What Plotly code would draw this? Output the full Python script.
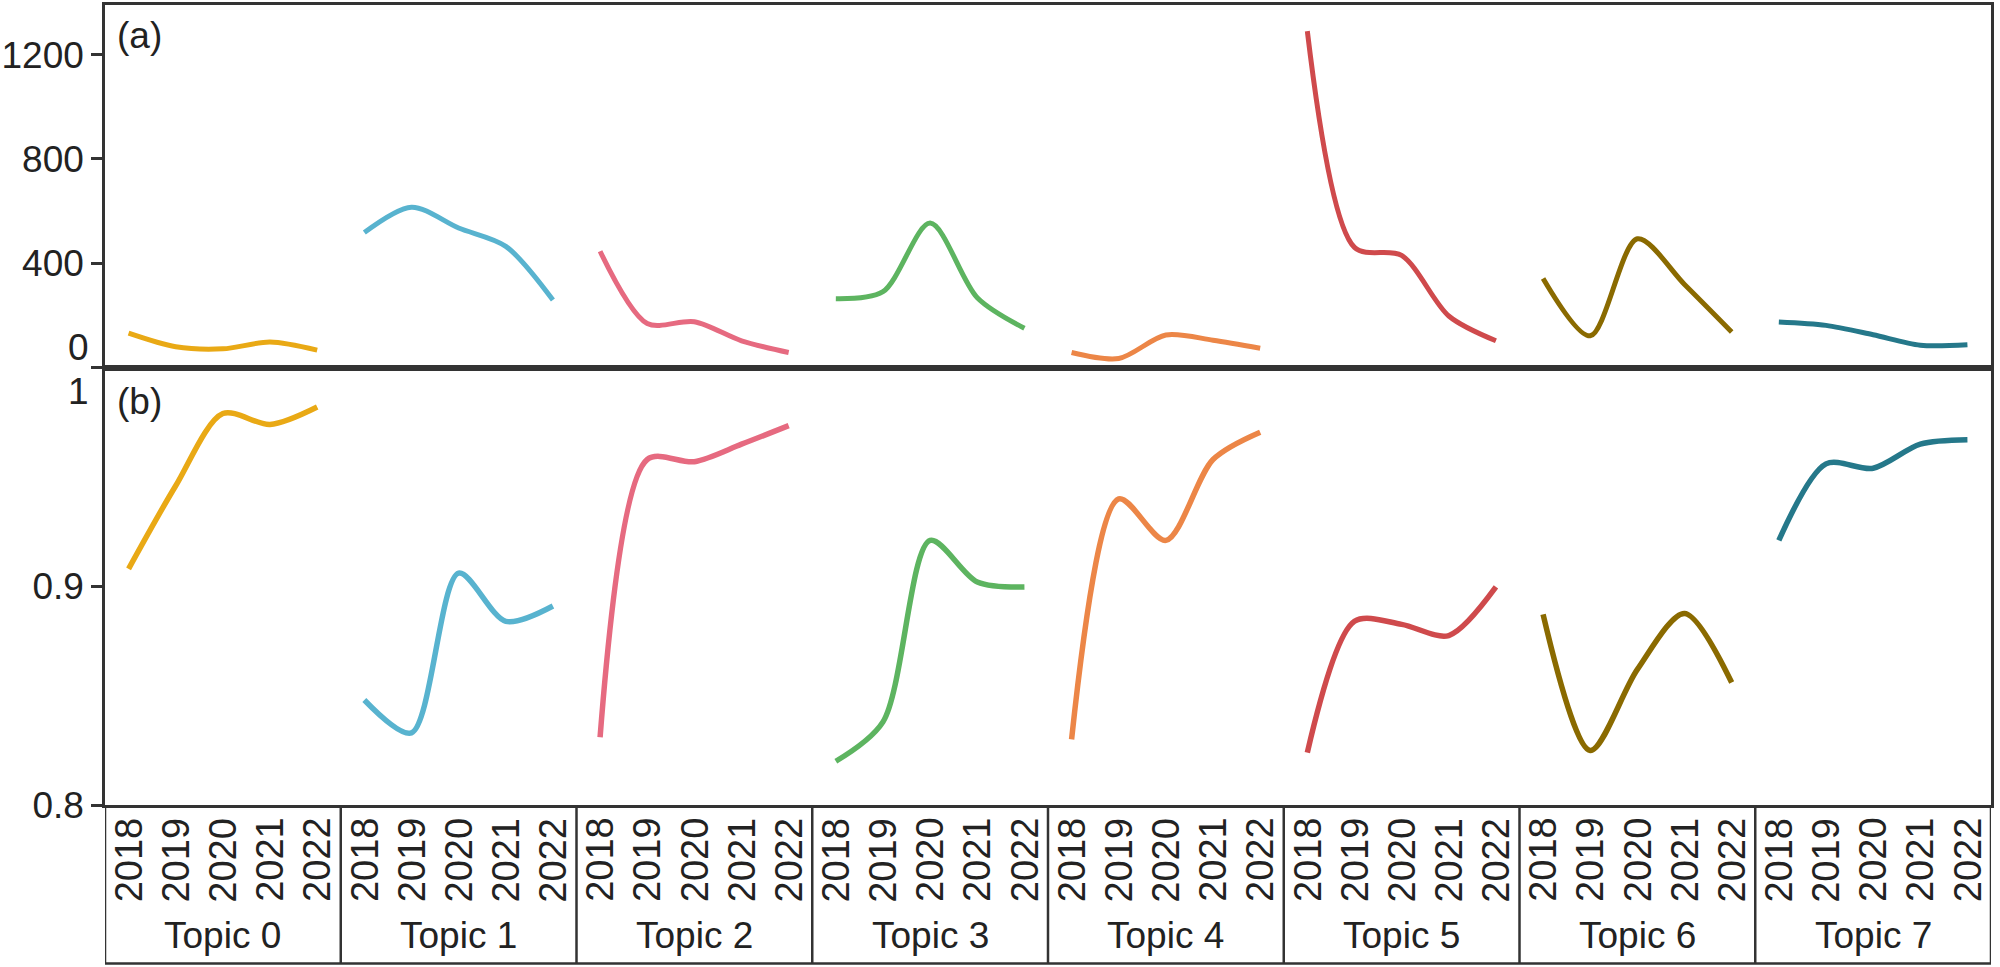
import plotly.graph_objects as go

topics = ["Topic 0", "Topic 1", "Topic 2", "Topic 3", "Topic 4", "Topic 5", "Topic 6", "Topic 7"]
years = ["2018", "2019", "2020", "2021", "2022"]
colors = ["#E9A915", "#58B3CF", "#E66A80", "#5DB460", "#EC8647", "#CF4A4C", "#8A6A00", "#25788A"]

# panel (a): counts per topic and year
count_t0 = [132, 80, 72, 98, 67]
count_t1 = [518, 615, 535, 465, 259]
count_t2 = [446, 169, 176, 103, 58]
count_t3 = [264, 291, 554, 268, 151]
count_t4 = [58, 35, 125, 105, 74]
count_t5 = [1290, 461, 430, 198, 103]
count_t6 = [342, 122, 494, 319, 137]
count_t7 = [175, 162, 126, 86, 88]

# panel (b): score per topic and year
score_t0 = [0.908, 0.946, 0.979, 0.974, 0.982]
score_t1 = [0.848, 0.833, 0.906, 0.884, 0.891]
score_t2 = [0.831, 0.958, 0.957, 0.965, 0.9735]
score_t3 = [0.820, 0.838, 0.921, 0.902, 0.8997]
score_t4 = [0.830, 0.940, 0.921, 0.958, 0.9705]
score_t5 = [0.824, 0.884, 0.8826, 0.8775, 0.8997]
score_t6 = [0.8872, 0.8249, 0.862, 0.8876, 0.856]
score_t7 = [0.921, 0.956, 0.954, 0.965, 0.967]

counts = [count_t0, count_t1, count_t2, count_t3, count_t4, count_t5, count_t6, count_t7]
scores = [score_t0, score_t1, score_t2, score_t3, score_t4, score_t5, score_t6, score_t7]

GROUP = 5
def xpos(g):
    return [GROUP * g + i + 0.5 for i in range(len(years))]

FONT = "Liberation Sans, Arial, sans-serif"
TXT = "#222222"
fig = go.Figure()
for g in range(len(topics)):
    fig.add_trace(go.Scatter(x=xpos(g), y=counts[g], mode="lines",
                             line=dict(color=colors[g], width=5, shape="spline", smoothing=0.85),
                             xaxis="x2", yaxis="y2", showlegend=False, hoverinfo="skip"))
    fig.add_trace(go.Scatter(x=xpos(g), y=scores[g], mode="lines",
                             line=dict(color=colors[g], width=5.5, shape="spline", smoothing=0.85),
                             xaxis="x", yaxis="y", showlegend=False, hoverinfo="skip"))

W, H = 2000, 967
L, R, T, B = 103, 9, 2, 162
plot_h = H - T - B
split = (805 - 366) / plot_h
xr = [0, GROUP * len(topics)]
axcol = "#333333"

common_x = dict(range=xr, showgrid=False, zeroline=False, showticklabels=False, ticks="",
                showline=True, linecolor=axcol, linewidth=2.5, mirror=True)
common_y = dict(showgrid=False, zeroline=False, showline=True, linecolor=axcol, linewidth=2.5,
                mirror=True, ticks="outside", ticklen=11, tickwidth=2.5, tickcolor=axcol,
                tickfont=dict(family=FONT, size=37, color=TXT))

fig.update_layout(
    width=W, height=H, margin=dict(l=L, r=R, t=T, b=B),
    paper_bgcolor="white", plot_bgcolor="white",
    xaxis=dict(anchor="y", **common_x),
    xaxis2=dict(anchor="y2", matches="x", **common_x),
    yaxis=dict(domain=[0, split], range=[0.8, 1.0], tickvals=[0.8, 0.9, 1.0],
               ticktext=["0.8", "0.9", ""], anchor="x", **common_y),
    yaxis2=dict(domain=[split, 1], range=[0, 1390], tickvals=[0, 400, 800, 1200],
                ticktext=["", "400", "800", "1200"], anchor="x2", **common_y),
)

def py(ypix):
    return (H - B - ypix) / plot_h

ann = []
# edge tick labels shifted inward
ann.append(dict(text="0", x=0, xref="paper", y=76, yref="y2", xanchor="right", yanchor="middle",
                xshift=-14, showarrow=False, font=dict(family=FONT, size=37, color=TXT)))
ann.append(dict(text="1", x=0, xref="paper", y=0.989, yref="y", xanchor="right", yanchor="middle",
                xshift=-14, showarrow=False, font=dict(family=FONT, size=37, color=TXT)))
# panel letters
ann.append(dict(text="(a)", x=(113 - L) / (W - L - R), xref="paper", y=py(33), yref="paper",
                xanchor="left", yanchor="middle", showarrow=False,
                font=dict(family=FONT, size=37, color=TXT)))
ann.append(dict(text="(b)", x=(113 - L) / (W - L - R), xref="paper", y=py(400), yref="paper",
                xanchor="left", yanchor="middle", showarrow=False,
                font=dict(family=FONT, size=37, color=TXT)))
for g, name in enumerate(topics):
    for i, yr in enumerate(years):
        ann.append(dict(text=yr, x=xpos(g)[i], xref="x", y=py(860), yref="paper",
                        xanchor="center", yanchor="middle", textangle=-90, showarrow=False,
                        font=dict(family=FONT, size=38, color=TXT)))
    ann.append(dict(text=name, x=GROUP * g + GROUP / 2, xref="x", y=py(936), yref="paper",
                    xanchor="center", yanchor="middle", showarrow=False,
                    font=dict(family=FONT, size=37, color=TXT)))

shapes = []
ybot = py(964)
for g in range(len(topics) + 1):
    shapes.append(dict(type="line", xref="x", yref="paper", x0=GROUP * g, x1=GROUP * g,
                       y0=0, y1=ybot, line=dict(color=axcol, width=2.5)))
shapes.append(dict(type="line", xref="x", yref="paper", x0=0, x1=GROUP * len(topics),
                   y0=ybot, y1=ybot, line=dict(color=axcol, width=2.5)))

fig.update_layout(annotations=ann, shapes=shapes)
fig.write_html("out.html", config={"displayModeBar": False},
               post_script="document.body.style.margin='0px';")
